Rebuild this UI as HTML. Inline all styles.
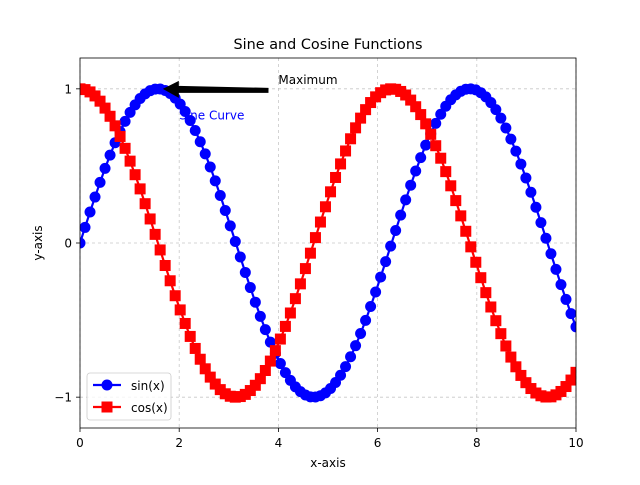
<!DOCTYPE html>
<html><head><meta charset="utf-8"><style>
body{margin:0;background:#fff}
svg text{font-family:"DejaVu Sans","Liberation Sans",sans-serif}
</style></head><body>
<svg id="chart" width="640" height="480" viewBox="0 0 640 480" xmlns="http://www.w3.org/2000/svg">
<rect width="640" height="480" fill="#fff"/>
<text x="328" y="49" font-size="14.4" text-anchor="middle">Sine and Cosine Functions</text>
<g id="grid"></g>
<g id="series"></g>
<g id="axes"></g>
<text x="328" y="467" font-size="12" text-anchor="middle">x-axis</text>
<text transform="translate(42,243) rotate(-90)" font-size="12" text-anchor="middle">y-axis</text>
</svg>
<script>
const xs=[0,0.101,0.202,0.303,0.404,0.505,0.606,0.707,0.808,0.909,1.010,1.111,1.212,1.313,1.414,1.515,1.616,1.717,1.818,1.919,2.020,2.121,2.222,2.323,2.424,2.525,2.626,2.727,2.828,2.929,3.030,3.131,3.232,3.333,3.434,3.535,3.636,3.737,3.838,3.939,4.040,4.141,4.242,4.343,4.444,4.545,4.646,4.747,4.848,4.949,5.051,5.152,5.253,5.354,5.455,5.556,5.657,5.758,5.859,5.960,6.061,6.162,6.263,6.364,6.465,6.566,6.667,6.768,6.869,6.970,7.071,7.172,7.273,7.374,7.475,7.576,7.677,7.778,7.879,7.980,8.081,8.182,8.283,8.384,8.485,8.586,8.687,8.788,8.889,8.990,9.091,9.192,9.293,9.394,9.495,9.596,9.697,9.798,9.899,10];
const sinVals=[0,.101,.201,.298,.393,.484,.570,.650,.723,.789,.847,.896,.937,.967,.988,.998,.999,.989,.970,.940,.901,.853,.795,.730,.657,.578,.493,.403,.308,.211,.111,.010,-.091,-.191,-.289,-.384,-.476,-.562,-.643,-.716,-.782,-.841,-.891,-.933,-.964,-.986,-.998,-.999,-.991,-.972,-.944,-.905,-.858,-.802,-.738,-.666,-.587,-.502,-.412,-.318,-.221,-.121,-.020,.081,.181,.280,.375,.467,.554,.635,.709,.776,.835,.887,.929,.961,.984,.997,1.000,.993,.975,.948,.911,.865,.810,.746,.674,.596,.512,.422,.329,.232,.132,.031,-.070,-.171,-.270,-.366,-.458,-.544];
const cosVals=[1,.995,.980,.954,.920,.875,.822,.760,.691,.614,.531,.443,.351,.255,.156,.056,-.045,-.146,-.245,-.342,-.434,-.522,-.606,-.684,-.754,-.816,-.870,-.915,-.951,-.978,-.994,-1.000,-.996,-.982,-.957,-.923,-.880,-.827,-.766,-.698,-.623,-.541,-.454,-.361,-.265,-.166,-.066,.035,.136,.235,.332,.425,.513,.597,.676,.747,.810,.865,.911,.948,.975,.993,1.000,.997,.983,.960,.927,.884,.833,.773,.705,.631,.550,.463,.371,.275,.176,.076,-.025,-.125,-.225,-.322,-.415,-.504,-.588,-.668,-.740,-.803,-.859,-.906,-.944,-.973,-.991,-.999,-.998,-.985,-.963,-.931,-.889,-.839];
const xTicks=[0,2,4,6,8,10];
const yTicks=[-1,0,1];
const yTickLabels=["\u22121","0","1"];

const NS="http://www.w3.org/2000/svg";
const L=80,R=576,T=58,B=428,X0=0,X1=10,Y0=-1.2,Y1=1.2;
const sx=v=>L+(v-X0)/(X1-X0)*(R-L);
const sy=v=>B-(v-Y0)/(Y1-Y0)*(B-T);
function mk(tag,attrs,parent){const e=document.createElementNS(NS,tag);for(const k in attrs)e.setAttribute(k,attrs[k]);parent.appendChild(e);return e;}
const grid=document.getElementById('grid'),series=document.getElementById('series'),axes=document.getElementById('axes');
xTicks.forEach(t=>{
  const g=mk('line',{x1:sx(t),x2:sx(t),y1:T,y2:B,stroke:'#b0b0b0','stroke-width':0.8,'stroke-dasharray':'3,3','stroke-opacity':0.7},grid);
  
  
  const tk=mk('line',{x1:sx(t),x2:sx(t),y1:B,y2:B+4,stroke:'#000','stroke-width':0.8},axes);
  
  
  const lb=mk('text',{x:sx(t),y:B+19,'font-size':12,'text-anchor':'middle'},axes);
  lb.textContent=t;
  
  
});
yTicks.forEach((t,i)=>{
  const g=mk('line',{x1:L,x2:R,y1:sy(t),y2:sy(t),stroke:'#b0b0b0','stroke-width':0.8,'stroke-dasharray':'3,3','stroke-opacity':0.7},grid);
  
  
  const tk=mk('line',{x1:L-4,x2:L,y1:sy(t),y2:sy(t),stroke:'#000','stroke-width':0.8},axes);
  
  
  const lb=mk('text',{x:L-8,y:sy(t)+4.5,'font-size':12,'text-anchor':'end'},axes);
  lb.textContent=yTickLabels[i];
  
  
});
const frame=mk('rect',{x:L,y:T,width:R-L,height:B-T,fill:'none',stroke:'#000','stroke-width':0.8},axes);



const clip=mk('clipPath',{id:'pc'},document.getElementById('chart'));
mk('rect',{x:L,y:T,width:R-L,height:B-T},clip);
series.setAttribute('clip-path','url(#pc)');

function drawSeries(vals,color,shape,name){
  const g=mk('g',{},series);
  
  
  const pts=xs.map((x,i)=>sx(x)+','+sy(vals[i])).join(' ');
  const pl=mk('polyline',{points:pts,fill:'none',stroke:color,'stroke-width':2.2},g);
  
  
  xs.forEach((x,i)=>{
    let m;
    if(shape==='circle')m=mk('circle',{cx:sx(x),cy:sy(vals[i]),r:5.5,fill:color},g);
    else m=mk('rect',{x:sx(x)-5.5,y:sy(vals[i])-5.5,width:11,height:11,fill:color},g);
    
    
  });
}
drawSeries(sinVals,'#0000ff','circle','sin');
drawSeries(cosVals,'#ff0000','square','cos');

// annotation
const ann=mk('g',{},axes);


mk('polygon',{points:`${sx(1.67)},${sy(1)} ${sx(1.67)+16},${sy(1)-8} ${sx(1.67)+16},${sy(1)-3} ${sx(3.8)},${sy(0.99)-2.5} ${sx(3.8)},${sy(0.99)+2.5} ${sx(1.67)+16},${sy(1)+4} ${sx(1.67)+16},${sy(1)+9}`,fill:'#000'},ann);
const at=mk('text',{x:sx(4),y:sy(1.03),'font-size':12},ann);
at.textContent='Maximum';
const st=mk('text',{x:sx(2),y:sy(0.8),'font-size':12,fill:'#0000ff'},series);
st.textContent='Sine Curve';



// legend
const lg=mk('g',{},axes);


mk('rect',{x:87,y:373,width:84,height:47,rx:3,fill:'#fff','fill-opacity':0.8,stroke:'#ccc','stroke-width':0.8},lg);
const e1=mk('g',{},lg);


mk('line',{x1:93,x2:121,y1:385,y2:385,stroke:'#0000ff','stroke-width':2.2},e1);
mk('circle',{cx:107,cy:385,r:5.5,fill:'#0000ff'},e1);
const t1=mk('text',{x:131,y:390,'font-size':12},e1);t1.textContent='sin(x)';
const e2=mk('g',{},lg);


mk('line',{x1:93,x2:121,y1:407,y2:407,stroke:'#ff0000','stroke-width':2.2},e2);
mk('rect',{x:101.5,y:401.5,width:11,height:11,fill:'#ff0000'},e2);
const t2=mk('text',{x:131,y:412,'font-size':12},e2);t2.textContent='cos(x)';
</script>
</body></html>
